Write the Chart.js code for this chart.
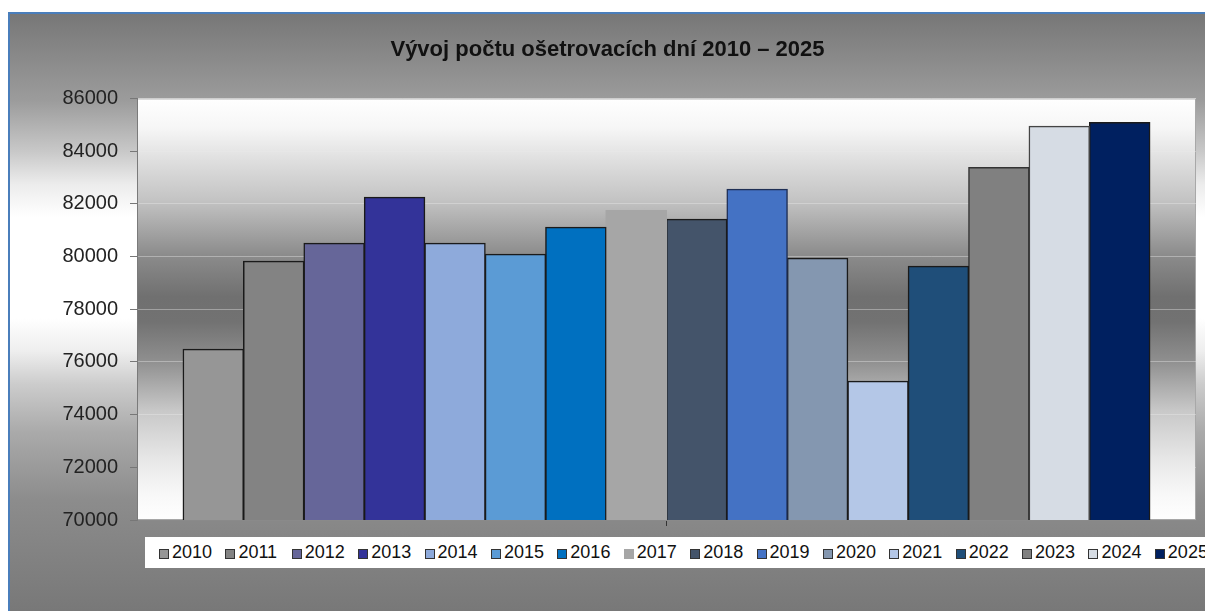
<!DOCTYPE html>
<html>
<head>
<meta charset="utf-8">
<script src="https://cdn.jsdelivr.net/npm/chart.js@4"></script>
<style>
  html, body { margin: 0; padding: 0; background: #fff; }
  #frame {
    position: absolute; left: 8px; top: 12px; width: 1195px; height: 597px;
    border-left: 2px solid #4a7ebb; border-top: 2px solid #4a7ebb;
    overflow: hidden;
    background: linear-gradient(to bottom, #777 0%, #9c9c9c 14.6%, #c8c8c8 23%, #ececec 28.5%, #fff 34%, #fff 51%, #eee 56.5%, #ccc 62%, #aaa 70%, #8c8c8c 81.5%, #787878 100%);
  }
  #wrap { position: absolute; left: 0; top: 0; width: 1195px; height: 597px; }
  #legend {
    position: absolute; left: 135px; top: 523px; width: 1100px; height: 31px;
    background: #fff; white-space: nowrap;
    font-family: "Liberation Sans", Arial, sans-serif; font-size: 18px; color: #111;
    line-height: 31px; padding-left: 14px; box-sizing: border-box;
  }
  .item { display: inline-block; width: 66.4px; vertical-align: top; }
  .mark { display: inline-block; width: 10px; height: 10px; box-sizing: border-box; margin-right: 3px; vertical-align: -1px; }
</style>
</head>
<body>
<div id="frame">
  <div id="wrap"><canvas id="chart"></canvas></div>
  <div id="legend"></div>
</div>
<script>
// Vývoj počtu ošetrovacích dní, one bar per year
const years = ['2010', '2011', '2012', '2013', '2014', '2015', '2016', '2017',
  '2018', '2019', '2020', '2021', '2022', '2023', '2024', '2025'];
const days = [76480, 79820, 80500, 82250, 80500, 80090, 81110, 81750,
  81410, 82550, 79930, 75270, 79630, 83380, 84940, 85090];
const fillColors = ['#969696', '#838383', '#666699', '#333399', '#8eaadb', '#5b9bd5', '#0070c0', '#a6a6a6',
  '#44546a', '#4472c4', '#8497b0', '#b4c7e7', '#1f4e79', '#808080', '#d6dce4', '#002060'];
const edgeColors = ['#1a1a1a', '#1a1a1a', '#1a1a1a', '#1a1a1a', '#1a1a1a', '#1a1a1a', '#1a1a1a', null,
  '#1a1a1a', '#1f2f55', '#1a1a1a', '#1a1a1a', '#1a1a1a', '#333333', '#444444', '#1a1a1a'];
const yMin = 70000;
const yMax = 86000;
const yStep = 2000;

// plot area: white -> dark band -> white, like the Excel fill
const plotFill = {
  id: 'plotFill',
  beforeDraw(chart) {
    const { ctx, chartArea: a } = chart;
    const g = ctx.createLinearGradient(0, a.top, 0, a.bottom);
    g.addColorStop(0, '#ffffff');
    g.addColorStop(0.07, '#f6f6f6');
    g.addColorStop(0.15, '#dedede');
    g.addColorStop(0.24, '#c4c4c4');
    g.addColorStop(0.37, '#8c8c8c');
    g.addColorStop(0.47, '#707070');
    g.addColorStop(0.53, '#727272');
    g.addColorStop(0.62, '#8e8e8e');
    g.addColorStop(0.74, '#c8c8c8');
    g.addColorStop(0.86, '#e8e8e8');
    g.addColorStop(0.94, '#f8f8f8');
    g.addColorStop(1, '#ffffff');
    ctx.save();
    ctx.fillStyle = g;
    ctx.fillRect(a.left, a.top, a.right - a.left, a.bottom - a.top);
    ctx.strokeStyle = '#a8a8a8';
    ctx.lineWidth = 1;
    ctx.strokeRect(a.left + 0.5, a.top + 0.5, a.right - a.left - 1, a.bottom - a.top - 1);
    ctx.restore();
  }
};

new Chart(document.getElementById('chart'), {
  type: 'bar',
  data: {
    labels: [''],
    datasets: years.map((y, i) => ({
      label: y,
      data: [days[i]],
      backgroundColor: fillColors[i],
      borderColor: edgeColors[i] || fillColors[i],
      borderWidth: edgeColors[i] ? 1.5 : 0,
      borderSkipped: false,
      inflateAmount: 0.5,
      categoryPercentage: 0.913,
      barPercentage: 1.0,
    })),
  },
  options: {
    responsive: true,
    maintainAspectRatio: false,
    animation: false,
    layout: { padding: { left: 9, right: 9, top: 0, bottom: 85 } },
    plugins: {
      legend: { display: false },
      tooltip: { enabled: false },
      title: {
        display: true,
        text: 'Vývoj počtu ošetrovacích dní 2010 – 2025',
        color: '#111',
        font: { family: '"Liberation Sans", Arial, sans-serif', size: 22, weight: 'bold' },
        padding: { top: 23, bottom: 35 },
      },
    },
    scales: {
      x: {
        ticks: { display: false },
        grid: { display: true, offset: false, drawOnChartArea: false, drawTicks: true, tickLength: 6, tickColor: '#333' },
        border: { display: true, color: '#8a8a8a' },
      },
      y: {
        min: yMin,
        max: yMax,
        afterFit(scale) { scale.width = 118; },
        ticks: {
          stepSize: yStep,
          padding: 12,
          color: '#222',
          font: { family: '"Liberation Sans", Arial, sans-serif', size: 20 },
          callback: (v) => String(v),
        },
        grid: { color: 'rgba(235,235,235,0.4)', tickColor: '#777', tickLength: 7 },
        border: { display: true, color: '#7a7a7a' },
      },
    },
  },
  plugins: [plotFill],
});

// legend strip (cut off at the right edge, as in the source)
const legend = document.getElementById('legend');
years.forEach((y, i) => {
  const item = document.createElement('span');
  item.className = 'item';
  const mark = document.createElement('span');
  mark.className = 'mark';
  mark.style.background = fillColors[i];
  mark.style.border = edgeColors[i] ? '1px solid #333' : 'none';
  item.appendChild(mark);
  item.appendChild(document.createTextNode(y));
  legend.appendChild(item);
});
</script>
</body>
</html>
